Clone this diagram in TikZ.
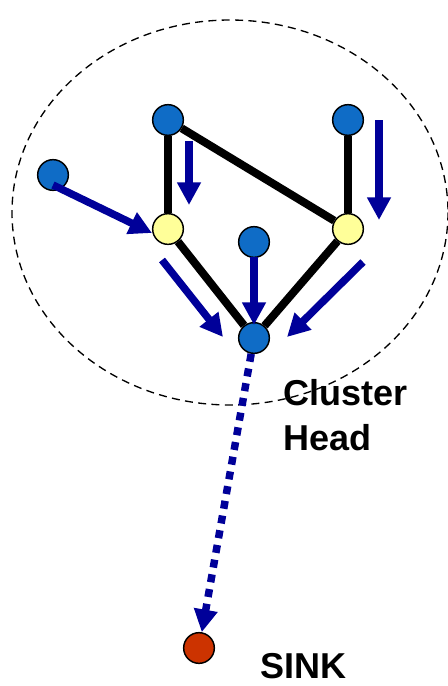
\documentclass[tikz,border=0pt]{standalone}
\usepackage{fontspec}
\setmainfont{Liberation Sans}
\usetikzlibrary{arrows.meta}
\definecolor{Node}{HTML}{0F6CC6}
\definecolor{Relay}{HTML}{FFFF99}
\definecolor{Flow}{HTML}{000099}
\definecolor{Sink}{HTML}{CC3300}

\begin{document}
\begin{tikzpicture}[x=.75pt,y=-.75pt,
    sensor/.style={circle,draw,line width=1.1pt,fill=Node,minimum size=23pt,inner sep=0pt},
    relay/.style={sensor,fill=Relay},
    link/.style={line width=6pt},
    flow/.style={Flow,line width=5.6pt,-{Triangle[length=17pt,width=17pt]}},
    label/.style={font=\fontsize{27}{34}\selectfont\bfseries,inner sep=0pt}]
  \useasboundingbox(0,0)rectangle(447,686);
  % cluster boundary
  \draw[line width=1pt,dash pattern=on 6pt off 4pt](230,212.5)ellipse[x radius=218,y radius=192.5];
  % sensors
  \node[sensor](a)at(168,120){};
  \node[sensor](b)at(348,120){};
  \node[sensor](c)at(53,175){};
  \node[relay](d)at(168,229){};
  \node[relay](e)at(348,229){};
  \node[sensor](f)at(254,242){};
  \node[sensor](g)at(254,338){};
  \node[sensor,fill=Sink](s)at(199,648){};
  % tree links
  \draw[link](a)--(d);
  \draw[link](a)--(e);
  \draw[link](b)--(e);
  \draw[link](d)--(g);
  \draw[link](e)--(g);
  % data flow
  \coordinate(c1)at(53,185);  \coordinate(c2)at(152,233);
  \coordinate(a1)at(189,141); \coordinate(a2)at(189,205);
  \coordinate(b1)at(379,120); \coordinate(b2)at(379,220);
  \coordinate(d1)at(162,260); \coordinate(d2)at(223,337);
  \coordinate(f1)at(254,257); \coordinate(f2)at(254,325);
  \coordinate(e1)at(363,262); \coordinate(e2)at(287,337);
  \foreach \p/\q in {c1/c2,a1/a2,b1/b2,d1/d2,f1/f2,e1/e2}
    \draw[flow](\p)--(\q);
  % head to sink
  \draw[flow,dash pattern=on 6pt off 5.2pt](g)--(s);
  \node[label,align=left,anchor=north west](ch)at(283,379){Cluster\\Head};
  \node[label,anchor=base west](sk)at(260,678){SINK};
\end{tikzpicture}
\end{document}
